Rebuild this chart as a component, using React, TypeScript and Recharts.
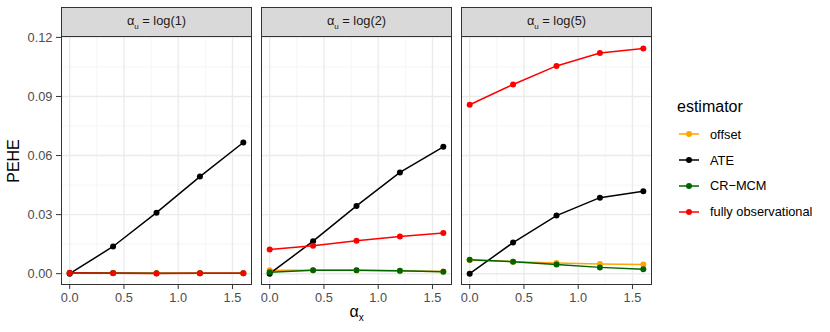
import React from "react";
import { LineChart, Line, XAxis, YAxis, ReferenceLine } from "recharts";

const alphaX = [0, 0.4, 0.8, 1.2, 1.6];
const panels = ["log(1)", "log(2)", "log(5)"];

// PEHE per estimator, one array per facet
const offsetVals = [
  [0.0004, 0.0003, 0.0002, 0.0002, 0.0002],
  [0.0017, 0.0018, 0.0017, 0.0014, 0.0011],
  [0.0069, 0.0061, 0.0054, 0.0049, 0.0047],
];
const ateVals = [
  [0.0, 0.0138, 0.031, 0.0493, 0.0666],
  [0.0, 0.0165, 0.0344, 0.0514, 0.0644],
  [0.0, 0.0158, 0.0295, 0.0386, 0.0418],
];
const crmcmVals = [
  [0.0005, 0.0003, 0.0002, 0.0002, 0.0002],
  [0.0007, 0.0017, 0.0017, 0.0015, 0.001],
  [0.0071, 0.0061, 0.0047, 0.0032, 0.0022],
];
const fullyVals = [
  [0.0003, 0.0002, 0.0001, 0.0002, 0.0002],
  [0.0123, 0.0142, 0.0167, 0.0189, 0.0206],
  [0.0858, 0.0961, 0.1055, 0.1121, 0.1143],
];

const yTicks = [0, 0.03, 0.06, 0.09, 0.12];
const yMinor = [0.015, 0.045, 0.075, 0.105];
const xTicks = [0, 0.5, 1, 1.5];
const xMinor = [0.25, 0.75, 1.25];

const series = [
  { key: "offset", label: "offset", color: "#FFA500" },
  { key: "ate", label: "ATE", color: "#000000" },
  { key: "crmcm", label: "CR\u2212MCM", color: "#006400" },
  { key: "fully", label: "fully observational", color: "#FF0000" },
];

const FONT = "'Liberation Sans', Arial, sans-serif";
const PLOT_LEFT = [61, 261, 461];
const PLOT_W = 191;
const PLOT_TOP = 36;
const PLOT_H = 249;

function Panel({ idx }: { idx: number }) {
  const data = alphaX.map((x, i) => ({
    x,
    offset: offsetVals[idx][i],
    ate: ateVals[idx][i],
    crmcm: crmcmVals[idx][i],
    fully: fullyVals[idx][i],
  }));
  const first = idx === 0;
  const left = first ? 0 : PLOT_LEFT[idx];
  const width = first ? PLOT_LEFT[0] + PLOT_W : PLOT_W;
  const tickStyle = { fontSize: 12.8, fill: "#4D4D4D", fontFamily: FONT };

  return (
    <div style={{ position: "absolute", left, top: 0 }}>
      <LineChart width={width} height={332} data={data} margin={{ top: PLOT_TOP, right: 0, bottom: 0, left: 0 }}>
        {yMinor.map((v) => (
          <ReferenceLine key={"ym" + v} y={v} stroke="#F2F2F2" strokeWidth={0.8} />
        ))}
        {xMinor.map((v) => (
          <ReferenceLine key={"xm" + v} x={v} stroke="#F2F2F2" strokeWidth={0.8} />
        ))}
        {yTicks.map((v) => (
          <ReferenceLine key={"y" + v} y={v} stroke="#EBEBEB" strokeWidth={1.4} />
        ))}
        {xTicks.map((v) => (
          <ReferenceLine key={"x" + v} x={v} stroke="#EBEBEB" strokeWidth={1.4} />
        ))}
        <XAxis
          dataKey="x"
          type="number"
          domain={[-0.08, 1.68]}
          ticks={xTicks}
          allowDataOverflow
          height={47}
          axisLine={false}
          tickLine={{ stroke: "#333333" }}
          tickSize={4}
          tickMargin={4}
          tick={tickStyle}
          tickFormatter={(v: number) => v.toFixed(1)}
        />
        <YAxis
          type="number"
          domain={[-0.00575, 0.1207]}
          ticks={yTicks}
          allowDataOverflow
          hide={!first}
          width={61}
          axisLine={false}
          tickLine={{ stroke: "#333333" }}
          tickSize={5}
          tickMargin={3.5}
          tick={tickStyle}
          tickFormatter={(v: number) => v.toFixed(2)}
        />
        {series.map((s) => (
          <Line
            key={s.key}
            type="linear"
            dataKey={s.key}
            stroke={s.color}
            strokeWidth={1.5}
            dot={{ r: 3, fill: s.color, stroke: s.color, strokeWidth: 0 }}
            activeDot={false}
            isAnimationActive={false}
          />
        ))}
      </LineChart>
    </div>
  );
}

function Strip({ idx }: { idx: number }) {
  return (
    <>
      <div
        style={{
          position: "absolute",
          left: PLOT_LEFT[idx],
          top: 7,
          width: PLOT_W,
          height: 30,
          boxSizing: "border-box",
          border: "1px solid #333333",
          background: "#D9D9D9",
          display: "flex",
          alignItems: "center",
          justifyContent: "center",
          fontFamily: FONT,
          fontSize: 12.8,
          color: "#1A1A1A",
        }}
      >
        <span>
          {"\u03B1"}
          <sub style={{ fontSize: 8 }}>u</sub>
          {" = " + panels[idx]}
        </span>
      </div>
      <div
        style={{
          position: "absolute",
          left: PLOT_LEFT[idx],
          top: PLOT_TOP,
          width: PLOT_W,
          height: PLOT_H,
          boxSizing: "border-box",
          border: "1px solid #333333",
          pointerEvents: "none",
        }}
      />
    </>
  );
}

export default function App() {
  return (
    <div
      style={{
        position: "absolute",
        left: 0,
        top: 0,
        width: 830,
        height: 332,
        background: "#fff",
        fontFamily: FONT,
        overflow: "hidden",
      }}
    >
      {panels.map((_, i) => (
        <Panel key={"p" + i} idx={i} />
      ))}
      {panels.map((_, i) => (
        <Strip key={"s" + i} idx={i} />
      ))}
      <div
        style={{
          position: "absolute",
          left: 14,
          top: 160.5,
          transform: "translate(-50%, -50%) rotate(-90deg)",
          fontSize: 16,
          color: "#000",
          whiteSpace: "nowrap",
        }}
      >
        PEHE
      </div>
      <div
        style={{
          position: "absolute",
          left: 356.5,
          top: 313,
          transform: "translate(-50%, -50%)",
          fontSize: 16,
          color: "#000",
          whiteSpace: "nowrap",
        }}
      >
        {"\u03B1"}
        <sub style={{ fontSize: 10 }}>x</sub>
      </div>
      <div style={{ position: "absolute", left: 677, top: 97, fontSize: 16, lineHeight: "20px", color: "#000" }}>
        estimator
      </div>
      {series.map((s, i) => (
        <div
          key={"lg" + s.key}
          style={{
            position: "absolute",
            left: 679,
            top: 134.3 + i * 25.8 - 10,
            height: 20,
            display: "flex",
            alignItems: "center",
            fontSize: 12.8,
            color: "#000",
            whiteSpace: "nowrap",
          }}
        >
          <svg width={20} height={20} style={{ marginRight: 11 }}>
            <line x1={0} y1={10} x2={20} y2={10} stroke={s.color} strokeWidth={1.5} />
            <circle cx={10} cy={10} r={3} fill={s.color} />
          </svg>
          {s.label}
        </div>
      ))}
    </div>
  );
}
